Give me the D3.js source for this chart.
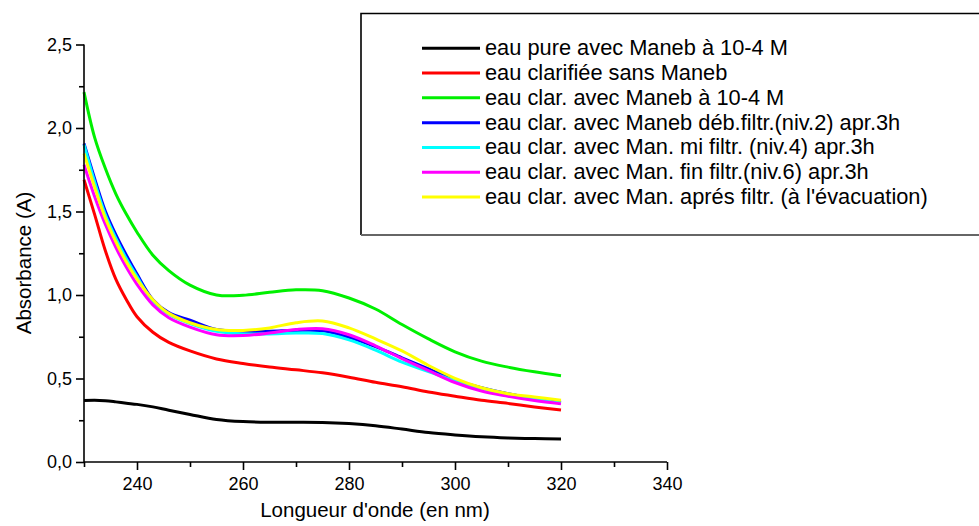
<!DOCTYPE html>
<html>
<head>
<meta charset="utf-8">
<script src="https://cdn.jsdelivr.net/npm/d3@7"></script>
<style>
	body { margin: 0; background: #fff; }
	svg { display: block; font-family: "Liberation Sans", Arial, sans-serif; }
</style>
</head>
<body>
<svg id="chart"></svg>
<script>
var width = 979;
var height = 526;

var wavelengths = [230, 232, 234, 236, 238, 240, 243, 246, 250, 255, 260, 265, 270, 275, 280, 285, 290, 295, 300, 305, 310, 315, 320];

var eauPure = [0.368, 0.370, 0.367, 0.36, 0.352, 0.345, 0.33, 0.31, 0.285, 0.255, 0.242, 0.238, 0.238, 0.237, 0.23, 0.217, 0.197, 0.176, 0.162, 0.151, 0.144, 0.14, 0.137];
var eauClarifiee = [1.69, 1.483, 1.268, 1.095, 0.972, 0.87, 0.777, 0.716, 0.665, 0.617, 0.59, 0.569, 0.552, 0.534, 0.508, 0.477, 0.451, 0.419, 0.394, 0.37, 0.351, 0.33, 0.312];
var clarManeb = [2.215, 1.944, 1.76, 1.606, 1.483, 1.376, 1.238, 1.146, 1.059, 1.0, 0.998, 1.016, 1.031, 1.026, 0.982, 0.916, 0.823, 0.737, 0.66, 0.604, 0.568, 0.54, 0.517];
var debFiltr = [1.907, 1.698, 1.504, 1.361, 1.238, 1.125, 0.972, 0.895, 0.849, 0.793, 0.783, 0.783, 0.788, 0.786, 0.747, 0.691, 0.624, 0.558, 0.491, 0.445, 0.409, 0.381, 0.358];
var miFiltr = [1.9, 1.678, 1.483, 1.34, 1.217, 1.11, 0.962, 0.885, 0.829, 0.783, 0.767, 0.767, 0.772, 0.769, 0.731, 0.67, 0.598, 0.542, 0.486, 0.442, 0.407, 0.378, 0.353];
var finFiltr = [1.78, 1.59, 1.425, 1.285, 1.166, 1.064, 0.941, 0.864, 0.808, 0.762, 0.757, 0.772, 0.793, 0.798, 0.762, 0.696, 0.619, 0.547, 0.476, 0.425, 0.394, 0.368, 0.348];
var apresFiltr = [1.847, 1.647, 1.463, 1.32, 1.197, 1.095, 0.972, 0.89, 0.834, 0.793, 0.788, 0.803, 0.834, 0.844, 0.803, 0.737, 0.665, 0.578, 0.501, 0.445, 0.409, 0.389, 0.37];

var seriesNames = [
	"eau pure avec Maneb à 10-4 M",
	"eau clarifiée sans Maneb",
	"eau clar. avec Maneb à 10-4 M",
	"eau clar. avec Maneb déb.filtr.(niv.2) apr.3h",
	"eau clar. avec Man. mi filtr. (niv.4) apr.3h",
	"eau clar. avec Man. fin filtr.(niv.6) apr.3h",
	"eau clar. avec Man. aprés filtr. (à l'évacuation)"
];
var seriesValues = [eauPure, eauClarifiee, clarManeb, debFiltr, miFiltr, finFiltr, apresFiltr];
var seriesColors = ["#000000", "#ff0000", "#00f000", "#0000ff", "#00ffff", "#ff00ff", "#ffff00"];

var xTicks = [240, 260, 280, 300, 320, 340];
var xMinorTicks = [230, 250, 270, 290, 310, 330];
var yTicks = [0, 0.5, 1.0, 1.5, 2.0, 2.5];
var yMinorTicks = [0.25, 0.75, 1.25, 1.75, 2.25];

var svg = d3.select("#chart")
	.attr("width", width)
	.attr("height", height);

var x = d3.scaleLinear()
	.domain([230, 340])
	.range([84, 667]);

var y = d3.scaleLinear()
	.domain([0, 2.5])
	.range([462, 44.5]);

var commaFormat = function (d) {
	return d3.format(".1f")(d).replace(".", ",");
};

// curves, legend order (yellow ends on top)
var line = d3.line()
	.curve(d3.curveCatmullRom.alpha(0.5))
	.x(d => x(d[0]))
	.y(d => y(d[1]));

seriesValues.forEach(function (vals, i) {
	var pts = wavelengths.map(function (w, j) { return [w, vals[j]]; });
	svg.append("path")
		.datum(pts)
		.attr("fill", "none")
		.attr("stroke", seriesColors[i])
		.attr("stroke-width", 3)
		.attr("stroke-linejoin", "round")
		.attr("d", line);
});

// axes
var xAxis = d3.axisBottom(x)
	.tickValues(xTicks)
	.tickSize(8)
	.tickPadding(7)
	.tickFormat(d3.format("d"));

var xAxisGroup = svg.append("g")
	.attr("transform", "translate(0," + y(0) + ")")
	.call(xAxis);

xAxisGroup.append("g")
	.call(d3.axisBottom(x).tickValues(xMinorTicks).tickSize(5).tickFormat(""))
	.select(".domain").remove();

var yAxis = d3.axisLeft(y)
	.tickValues(yTicks)
	.tickSize(8)
	.tickPadding(4)
	.tickFormat(commaFormat);

var yAxisGroup = svg.append("g")
	.attr("transform", "translate(" + x(230) + ",0)")
	.call(yAxis);

yAxisGroup.append("g")
	.call(d3.axisLeft(y).tickValues(yMinorTicks).tickSize(5).tickFormat(""))
	.select(".domain").remove();

svg.selectAll(".domain, .tick line")
	.attr("stroke", "#000")
	.attr("stroke-width", 1.6);

// plain axis lines, no end caps
xAxisGroup.select(".domain").attr("d", "M" + x(230) + ",0H" + x(340));
yAxisGroup.select(".domain").attr("d", "M0," + y(0) + "V" + y(2.5));

svg.selectAll(".tick text")
	.attr("fill", "#000")
	.style("font-size", "18px")
	.style("font-family", "'Liberation Sans', Arial, sans-serif");

// axis titles
svg.append("text")
	.attr("x", 375)
	.attr("y", 517)
	.attr("text-anchor", "middle")
	.style("font-size", "20.5px")
	.text("Longueur d'onde (en nm)");

svg.append("text")
	.attr("transform", "translate(31,263) rotate(-90)")
	.attr("text-anchor", "middle")
	.style("font-size", "20.5px")
	.text("Absorbance (A)");

// legend
var legend = svg.append("g");

legend.append("path")
	.attr("d", "M985,13.5H361V235")
	.attr("fill", "none")
	.attr("stroke", "#000")
	.attr("stroke-width", 1.6);

legend.append("line")
	.attr("x1", 361).attr("x2", 985)
	.attr("y1", 235).attr("y2", 235)
	.attr("stroke", "#666")
	.attr("stroke-width", 2.2);

var rowY = d3.scaleLinear()
	.domain([0, 6])
	.range([48.3, 197]);

seriesNames.forEach(function (name, i) {
	legend.append("line")
		.attr("x1", 422).attr("x2", 480)
		.attr("y1", rowY(i)).attr("y2", rowY(i))
		.attr("stroke", seriesColors[i])
		.attr("stroke-width", 3);
	legend.append("text")
		.attr("x", 485)
		.attr("y", rowY(i) + 7)
		.style("font-size", "21.8px")
		.text(name);
});
</script>
</body>
</html>
